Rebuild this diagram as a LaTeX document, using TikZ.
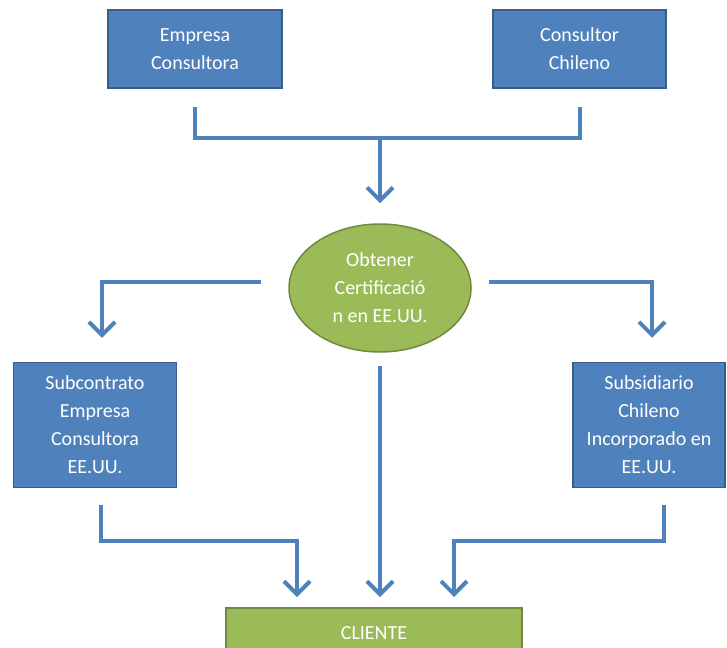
\documentclass[tikz,border=0pt]{standalone}
\usepackage{fontspec}
\setmainfont{Carlito}
\usetikzlibrary{shapes.geometric,arrows.meta}

\definecolor{boxblue}{HTML}{4F81BD}
\definecolor{edgeblue}{HTML}{385D8A}
\definecolor{boxgreen}{HTML}{9BBB59}
\definecolor{edgegreen}{HTML}{71893F}

\tikzset{
  bluebox/.style={rectangle,fill=boxblue,draw=edgeblue,line width=1.5pt,
    text=white,align=center,font=\fontsize{20}{28}\selectfont,inner sep=2pt},
  greenbox/.style={fill=boxgreen,draw=edgegreen,line width=1.5pt,
    text=white,align=center,font=\fontsize{20}{28}\selectfont,inner sep=2pt},
  link/.style={draw=boxblue,line width=4pt,line join=miter},
  arrow/.style={link,-{Straight Barb[length=13pt,width=26pt]}}
}

\begin{document}
\begin{tikzpicture}[x=1pt,y=-1pt]
  \useasboundingbox (0,0) rectangle (727,647);

  \node[bluebox,minimum width=174pt,minimum height=78pt] (emp) at (195,49) {Empresa\\Consultora};
  \node[bluebox,minimum width=173pt,minimum height=78pt] (con) at (579.5,49) {Consultor\\Chileno};

  \node[greenbox,ellipse,minimum width=182pt,minimum height=128pt] (obt) at (380,288) {Obtener\\Certificació\\n en EE.UU.};

  \node[bluebox,minimum width=163pt,minimum height=125pt] (sub) at (95,425) {Subcontrato\\Empresa\\Consultora\\EE.UU.};
  \node[bluebox,minimum width=152pt,minimum height=125pt] (subs) at (649,425) {Subsidiario\\Chileno\\Incorporado en\\EE.UU.};

  \node[greenbox,rectangle,minimum width=296pt,minimum height=66pt,anchor=north] (cli) at (374,607) {};
  \node[text=white,font=\fontsize{20}{28}\selectfont] (clitxt) at (374,633) {CLIENTE};

  \coordinate (top) at (380,138);
  \coordinate (cin) at (obt.south |- cli.north);

  % top bracket
  \draw[link] ([yshift=-18pt]emp.south) |- (top) -| ([yshift=-18pt]con.south);
  \draw[arrow] (top) -- ([yshift=20pt]obt.north);

  % branches
  \draw[arrow] ([xshift=-27pt,yshift=6pt]obt.west) -| ([xshift=7pt,yshift=24pt]sub.north);
  \draw[arrow] ([xshift=17pt,yshift=6pt]obt.east) -| ([xshift=3pt,yshift=24pt]subs.north);

  % to client
  \draw[arrow] ([yshift=-13pt]obt.south) -- ([yshift=10pt]cin);
  \draw[arrow] ([xshift=6pt,yshift=-17pt]sub.south) -- ++(0,36) -| ([xshift=-77pt,yshift=10pt]cli.north);
  \draw[arrow] ([xshift=15pt,yshift=-17pt]subs.south) -- ++(0,36) -| ([xshift=80pt,yshift=10pt]cli.north);
\end{tikzpicture}
\end{document}
